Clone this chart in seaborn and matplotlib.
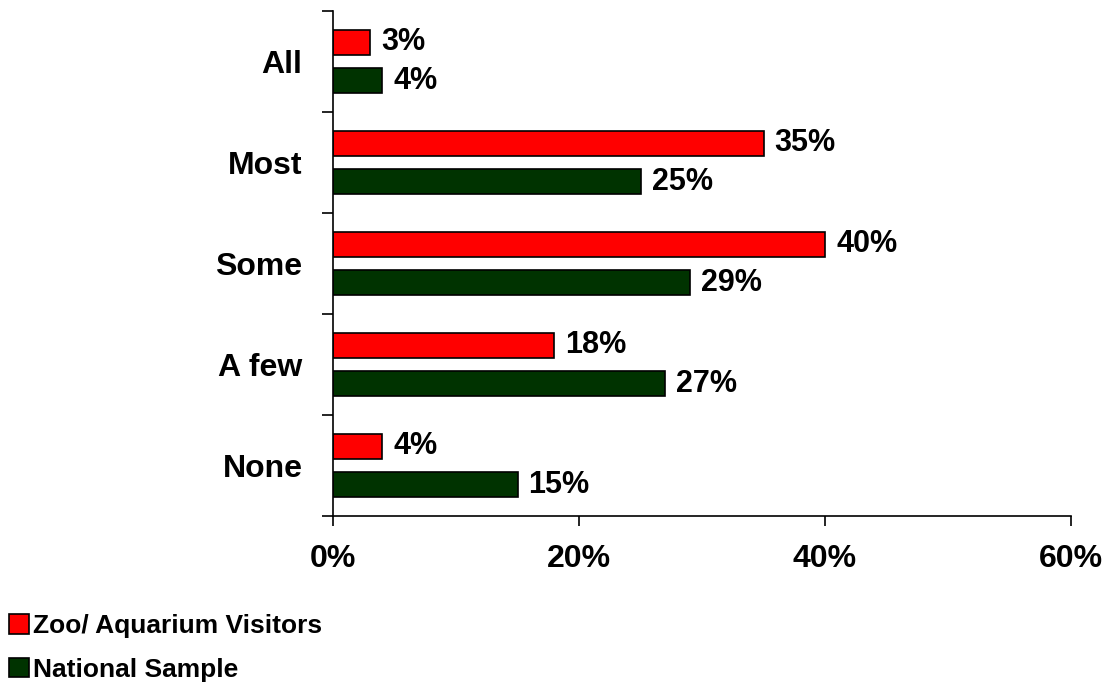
import matplotlib
matplotlib.use("Agg")
import matplotlib.pyplot as plt
from matplotlib.patches import Patch
from matplotlib.ticker import FixedLocator, FuncFormatter
import seaborn as sns
import pandas as pd

categories = ["All", "Most", "Some", "A few", "None"]
series_names = ["Zoo/ Aquarium Visitors", "National Sample"]
zoo_visitors = [3, 35, 40, 18, 4]
national_sample = [4, 25, 29, 27, 15]
x_ticks = [0, 20, 40, 60]
colors = ["#FF0000", "#003300"]

df = pd.DataFrame({
    "category": categories * 2,
    "group": [series_names[0]] * len(categories) + [series_names[1]] * len(categories),
    "value": zoo_visitors + national_sample,
})

sns.set_style("white")
plt.rcParams["font.family"] = ["Liberation Sans", "DejaVu Sans"]
plt.rcParams["font.weight"] = "bold"
plt.rcParams["text.color"] = "black"
plt.rcParams["xtick.color"] = "black"
plt.rcParams["ytick.color"] = "black"
plt.rcParams["xtick.labelcolor"] = "black"
plt.rcParams["ytick.labelcolor"] = "black"

fig = plt.figure(figsize=(11.08, 6.85), dpi=100)
ax = fig.add_axes([333 / 1108, 1 - 516 / 685, (1071 - 333) / 1108, (516 - 11) / 685])

sns.barplot(
    data=df, x="value", y="category", hue="group", order=categories,
    hue_order=series_names, palette=colors, saturation=1, orient="h",
    width=0.76, gap=0.34, edgecolor="black", linewidth=1.2,
    legend=False, ax=ax,
)

for container in ax.containers:
    ax.bar_label(container, fmt="{:.0f}%", padding=8, fontsize=22,
                 fontweight="bold", color="black")

ax.set_xlim(0, 60)
ax.set_ylim(len(categories) - 0.5, -0.5)
ax.set_xlabel("")
ax.set_ylabel("")

ax.xaxis.set_major_locator(FixedLocator(x_ticks))
ax.xaxis.set_major_formatter(FuncFormatter(lambda v, p: f"{v:.0f}%"))
ax.tick_params(axis="x", direction="out", length=7, width=1.2, pad=13,
               labelsize=23, bottom=True)
for lbl in ax.get_xticklabels():
    lbl.set_fontweight("bold")

ax.yaxis.set_minor_locator(FixedLocator([i - 0.5 for i in range(len(categories) + 1)]))
ax.tick_params(axis="y", which="major", length=0, pad=22, labelsize=23)
ax.tick_params(axis="y", which="minor", direction="out", length=8, width=1.2, left=True)
for lbl in ax.get_yticklabels():
    lbl.set_fontweight("bold")

for side in ["top", "right"]:
    ax.spines[side].set_visible(False)
for side in ["left", "bottom"]:
    ax.spines[side].set_color("black")
    ax.spines[side].set_linewidth(1.2)

handles = [Patch(facecolor=c, edgecolor="black", linewidth=1.2) for c in colors]
fig.legend(handles, series_names, loc="upper left", bbox_to_anchor=(0.008, 1 - 614 / 685),
           frameon=False, handlelength=0.76, handleheight=0.76,
           handletextpad=0.15, labelspacing=0.74, borderaxespad=0, borderpad=0,
           prop={"weight": "bold", "size": 19})

fig.savefig("out.png", dpi=100)
